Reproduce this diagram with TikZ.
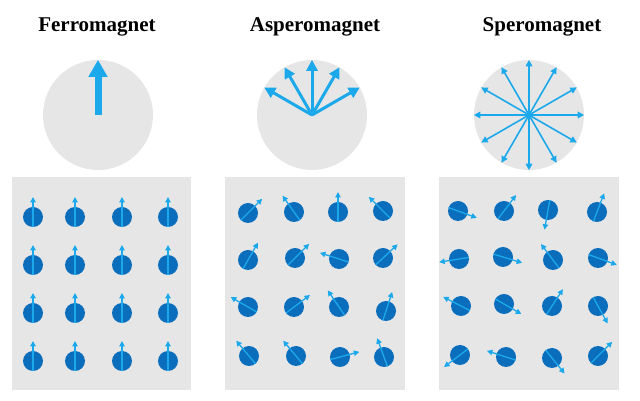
\documentclass[tikz,border=0pt]{standalone}
\usepackage{fontspec}
\setmainfont{Liberation Serif}
\usepackage{tikz}
\usetikzlibrary{arrows.meta, positioning}

\definecolor{panelgray}{HTML}{E6E6E6}
\definecolor{dotblue}{HTML}{0A6EBD}
\definecolor{spinblue}{HTML}{1CA9EC}

\begin{document}
\begin{tikzpicture}[x = 1pt, y = 1pt,
		title/.style = {anchor=base, font=\bfseries\fontsize{21}{25}\selectfont},
		sphere/.style = {circle, fill=panelgray, minimum size=110pt, inner sep=0pt},
		panel/.style = {fill=panelgray},
		spin/.style = {circle, fill=dotblue, minimum size=20pt, inner sep=0pt},
		spinarrow/.style = {spinblue, line width=1.3pt, -{Triangle[width=5.5pt,length=5.5pt]}}]
	\useasboundingbox (0,0) rectangle (640,401);

	% titles
	\node[title] (tf) at (97,369) {Ferromagnet};
	\node[title] (ta) at (315,369) {Asperomagnet};
	\node[title] (ts) at (542,369) {Speromagnet};

	% direction spheres
	\node[sphere] (fer) at (98,286) {};
	\node[sphere] (asp) at (312,286) {};
	\node[sphere] (spe) at (529,286) {};

	\draw[spinblue, line width=7pt, -{Triangle[width=18pt,length=17pt]}] (fer.center) -- (fer.north);
	\foreach \a in {30,60,...,150}
		\draw[spinblue, line width=3pt, -{Triangle[width=11pt,length=11pt]}] (asp.center) -- (asp.\a);
	\foreach \a in {0,30,...,330}
		\draw[spinblue, line width=1.6pt, -{Triangle[width=6.5pt,length=6.5pt]}] (spe.center) -- (spe.\a);

	% lattices
	\fill[panel] (12,11) rectangle (191,224);
	\fill[panel] (225,11) rectangle (405,224);
	\fill[panel] (439,11) rectangle (619,224);

	\foreach \x/\y/\a [count=\i] in {
			33/184/90, 75/184/90, 122/184/90, 168/184/90,
			33/136/90, 75/136/90, 122/136/90, 168/136/90,
			33/88/90, 75/88/90, 122/88/90, 168/88/90,
			33/40/90, 75/40/90, 122/40/90, 168/40/90} {
		\node[spin] (f\i) at (\x,\y) {};
		\draw[spinarrow] (f\i.center) ++(\a+180:10) -- ++(\a:30);
	}

	\foreach \x/\y/\a [count=\i] in {
			248/188/45, 294/189/125, 338/189/90, 383/190/135,
			248/141/60, 295/143/45, 339/142/162, 383/143/43,
			248/94/150, 294/94/37, 339/94/124, 386/90/72,
			249/45/130, 296/45/130, 340/44/15, 384/44/110} {
		\node[spin] (a\i) at (\x,\y) {};
		\draw[spinarrow] (a\i.center) ++(\a+180:10) -- ++(\a:30);
	}

	\foreach \x/\y/\a [count=\i] in {
			458/190/-20, 504/190/53, 548/191/-100, 597/189/69,
			459/142/-171, 503/144/-17, 553/141/127, 598/143/-20,
			461/95/153, 504/97/-30, 552/95/57, 598/95/-61,
			460/46/-143, 506/44/162, 552/43/-51, 598/45/45} {
		\node[spin] (s\i) at (\x,\y) {};
		\draw[spinarrow] (s\i.center) ++(\a+180:10) -- ++(\a:30);
	}
\end{tikzpicture}
\end{document}
